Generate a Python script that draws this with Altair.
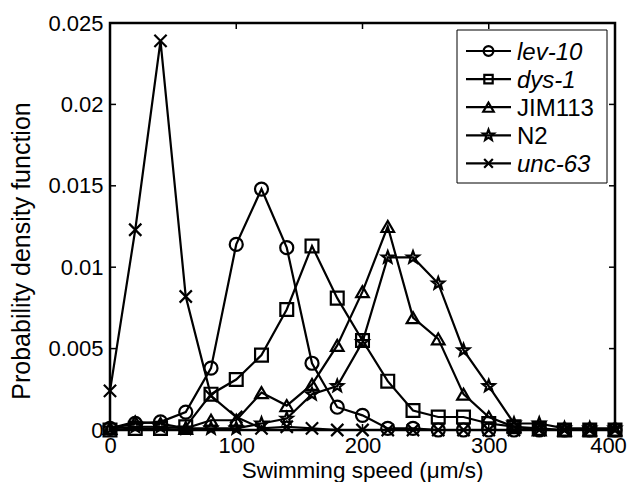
import math
import altair as alt
import pandas as pd

# ---- data ----
speed = [0, 20, 40, 60, 80, 100, 120, 140, 160, 180, 200, 220, 240, 260, 280, 300, 320, 340, 360, 380, 400]
lev10 = [0.0001, 0.0004, 0.0005, 0.0011, 0.0038, 0.0114, 0.0148, 0.0112, 0.0041, 0.0014, 0.0009, 0.0001, 0.0001, 0.0, 0.0, 0.0, 0.0, 0.0, 0.0, 0.0, 0.0]
dys1 = [0.0, 0.0001, 0.0001, 0.0002, 0.0022, 0.0031, 0.0046, 0.0074, 0.0113, 0.0081, 0.0055, 0.0030, 0.0012, 0.0008, 0.0008, 0.0004, 0.0002, 0.0001, 0.0, 0.0, 0.0]
jim113 = [0.0001, 0.0005, 0.0004, 0.0001, 0.0006, 0.0006, 0.0023, 0.0015, 0.0028, 0.0052, 0.0085, 0.0125, 0.0069, 0.0056, 0.0022, 0.0008, 0.0002, 0.0, 0.0, 0.0, 0.0]
n2 = [0.0001, 0.0002, 0.0002, 0.0001, 0.0001, 0.0001, 0.0004, 0.0007, 0.0022, 0.0027, 0.0054, 0.0106, 0.0106, 0.0090, 0.0049, 0.0027, 0.0004, 0.0004, 0.0001, 0.0001, 0.0001]
unc63 = [0.0024, 0.0123, 0.0239, 0.0082, 0.0021, 0.0008, 0.0001, 0.0002, 0.0001, 0.0, 0.0, 0.0, 0.0, 0.0, 0.0, 0.0, 0.0, 0.0, 0.0, 0.0, 0.0]

names = ["lev-10", "dys-1", "JIM113", "N2", "unc-63"]
italic = [True, True, False, False, True]
series = [lev10, dys1, jim113, n2, unc63]

x_ticks = [0, 100, 200, 300, 400]
y_ticks = [0, 0.005, 0.01, 0.015, 0.02, 0.025]
x_title = "Swimming speed (\u03bcm/s)"
y_title = "Probability density function"

# ---- styling ----
FONT = "Liberation Sans"
W, H = 505, 407

star_pts = []
for k in range(10):
    r = 1.0 if k % 2 == 0 else 0.42
    a = math.radians(-90 + 36 * k)
    star_pts.append(f"{r * math.cos(a):.3f},{r * math.sin(a):.3f}")
STAR = "M" + "L".join(star_pts) + "Z"
XMARK = "M-1,-1L1,1M-1,1L1,-1"
shapes = ["circle", "square", "triangle-up", STAR, XMARK]
sizes = [170, 150, 190, 230, 130]
leg_sizes = [95, 70, 110, 130, 75]

rows = []
for name, vals in zip(names, series):
    for s, v in zip(speed, vals):
        rows.append({"speed": s, "pdf": v, "strain": name})
df = pd.DataFrame(rows)

xs = alt.Scale(domain=[0, 400], nice=False)
ys = alt.Scale(domain=[0, 0.025], nice=False)

LW = 2.2
base = alt.Chart(df)
lines = base.mark_line(color="black", strokeWidth=LW).encode(
    x=alt.X("speed:Q", scale=xs,
            axis=alt.Axis(values=x_ticks, title=None, domain=False, ticks=False,
                          labelPadding=5, labelFlush=False, grid=False,
                          labelOffset={"condition": {"test": "datum.value == 400", "value": -7},
                                       "value": 0})),
    y=alt.Y("pdf:Q", scale=ys,
            axis=alt.Axis(values=y_ticks, format="~g", title=None, domain=False,
                          ticks=False, labelPadding=7, labelFlush=False, grid=False)),
    detail="strain:N",
)
points = base.mark_point(filled=False, color="black", strokeWidth=LW, opacity=1).encode(
    x=alt.X("speed:Q", scale=xs),
    y=alt.Y("pdf:Q", scale=ys),
    shape=alt.Shape("strain:N", scale=alt.Scale(domain=names, range=shapes), legend=None),
    size=alt.Size("strain:N", scale=alt.Scale(domain=names, range=sizes), legend=None),
)

# inward ticks (MATLAB style)
xt = pd.DataFrame({"v": x_ticks})
yt = pd.DataFrame({"v": y_ticks})
tick_layers = [
    alt.Chart(xt).mark_rule(color="black", strokeWidth=1.5).encode(
        x=alt.X("v:Q", scale=xs), y=alt.value(H), y2=alt.value(H - 6)),
    alt.Chart(xt).mark_rule(color="black", strokeWidth=1.5).encode(
        x=alt.X("v:Q", scale=xs), y=alt.value(0), y2=alt.value(6)),
    alt.Chart(yt).mark_rule(color="black", strokeWidth=1.5).encode(
        y=alt.Y("v:Q", scale=ys), x=alt.value(0), x2=alt.value(6)),
    alt.Chart(yt).mark_rule(color="black", strokeWidth=1.5).encode(
        y=alt.Y("v:Q", scale=ys), x=alt.value(W), x2=alt.value(W - 6)),
]

one = pd.DataFrame({"a": [0]})

# axis titles as text marks
titles = [
    alt.Chart(one).mark_text(text=x_title, font=FONT, fontSize=22.5, align="center",
                             baseline="alphabetic", color="black").encode(
        x=alt.value(W / 2), y=alt.value(H + 47.5)),
    alt.Chart(one).mark_text(text=y_title, font=FONT, fontSize=25, align="center",
                             baseline="alphabetic", angle=270, color="black").encode(
        x=alt.value(-80), y=alt.value(228)),
]

# legend drawn by hand (mixed italic / upright labels)
leg = [alt.Chart(one).mark_rect(fill="white", stroke="black", strokeWidth=1).encode(
    x=alt.value(347), x2=alt.value(497), y=alt.value(7), y2=alt.value(160))]
for i, (name, shp, sz, it) in enumerate(zip(names, shapes, leg_sizes, italic)):
    yy = 28 + 28.1 * i
    leg.append(alt.Chart(one).mark_rule(color="black", strokeWidth=LW).encode(
        x=alt.value(356), x2=alt.value(401), y=alt.value(yy)))
    leg.append(alt.Chart(one).mark_point(filled=False, color="black", strokeWidth=LW, opacity=1,
                                         shape=shp, size=sz).encode(
        x=alt.value(378.5), y=alt.value(yy)))
    leg.append(alt.Chart(one).mark_text(text=name, font=FONT, fontSize=24, align="left",
                                        baseline="alphabetic",
                                        fontStyle="italic" if it else "normal",
                                        color="black").encode(
        x=alt.value(407), y=alt.value(yy + 8.5)))

chart = alt.layer(lines, points, *tick_layers, *titles, *leg).properties(
    width=W, height=H,
    autosize=alt.AutoSizeParams(type="none"),
    padding={"left": 102, "top": 15, "right": 13, "bottom": 52},
).configure_view(stroke="black", strokeWidth=2.5).configure_axis(
    labelFont=FONT, labelFontSize=22, labelColor="black",
)

chart.save("out.html", embed_options={"renderer": "svg", "actions": False})
